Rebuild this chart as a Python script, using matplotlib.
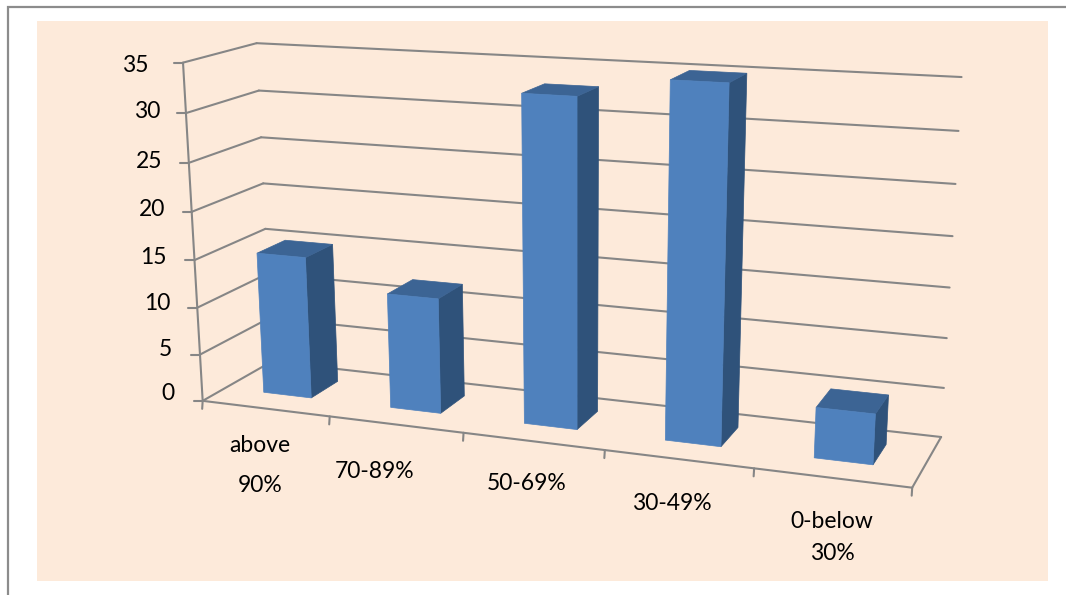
"""
3D-look column chart, drawn on a flat axes with a fitted camera projection.
"""
import numpy as np
import matplotlib
matplotlib.use("Agg")
import matplotlib.pyplot as plt
from matplotlib.patches import Polygon, Rectangle

plt.rcParams['font.family'] = ['Lato', 'DejaVu Sans']

# Chart data
categories = ["above\n90%", "70-89%", "50-69%", "30-49%", "0-below\n30%"]
values = [15, 12, 33, 35, 5]
value_ticks = [0, 5, 10, 15, 20, 25, 30, 35]

# Layout: where the plot box sits on the page, (category, value, depth) -> pixel
calib_world = [(0, 0, 0), (0, 35, 0), (1, 0, 0), (2, 0, 0), (3, 0, 0), (4, 0, 0), (5, 0, 0),
               (0, 15, 0), (0, 0, 1), (0, 35, 1), (5, 35, 1), (5, 0, 1), (0, 15, 1), (5, 15, 1)]
calib_pixel = [(203, 400), (182.5, 62), (330, 417), (464, 433), (605, 451), (753, 469), (912, 488),
               (195, 259), (271, 362), (257, 44), (961, 77), (941, 435), (265, 229), (951, 288)]
tick_label_x = [175, 172, 170, 167, 165, 162, 160, 149]
tick_label_y = [393, 349, 303, 257, 209, 162, 112, 65]
cat_label_xy = [(260, 446), (375, 472), (527, 484), (672, 503), (832, 522)]
cat_label_spacing = [40, 0, 0, 0, 31]
BAR_INSET = 0.31
BAR_DEPTH = (0.32, 0.73)

GRID = "#868686"
FRONT = "#4F81BD"
TOP = "#3C6494"
SIDE = "#2F527A"
PANEL = "#FDEADA"


def fit_camera(world, pixel):
    rows, rhs = [], []
    for (x, y, z), (u, v) in zip(world, pixel):
        rows.append([x, y, z, 1, 0, 0, 0, 0, -u * x, -u * y, -u * z])
        rows.append([0, 0, 0, 0, x, y, z, 1, -v * x, -v * y, -v * z])
        rhs += [u, v]
    sol = np.linalg.lstsq(np.array(rows, float), np.array(rhs, float), rcond=None)[0]
    return np.append(sol, 1.0).reshape(3, 4)


CAM = fit_camera(calib_world, calib_pixel)


def proj(x, v, d):
    p = CAM @ np.array([x, v, d, 1.0])
    return p[0] / p[2], p[1] / p[2]


def main():
    fig = plt.figure(figsize=(10.66, 5.95), dpi=100)
    ax = fig.add_axes([0, 0, 1, 1])
    ax.set_xlim(0, 1066)
    ax.set_ylim(595, 0)
    ax.axis("off")

    # page frame and panel
    ax.plot([8, 8, 1066], [595, 7, 7], color="#8c8c8c", lw=1.6, solid_joinstyle="miter")
    ax.add_patch(Rectangle((37, 21), 1011, 560, facecolor=PANEL, edgecolor="none"))

    def line(a, b, **kw):
        ax.plot([a[0], b[0]], [a[1], b[1]], color=GRID, lw=1.5, solid_capstyle="round", **kw)

    n = len(categories)
    top = value_ticks[-1]

    # gridlines on side and back walls
    for v in value_ticks:
        a = proj(0, v, 0)
        b = proj(0, v, 1)
        line(a, b)
        line(b, proj(n, v, 1))
        line((a[0] - 9, a[1]), a)

    # floor
    line(proj(0, 0, 0), proj(n, 0, 0))
    line(proj(n, 0, 0), proj(n, 0, 1))
    line(proj(0, 0, 0), proj(0, top, 0))
    for i in range(n + 1):
        a = proj(i, 0, 0)
        line(a, (a[0] - 0.5, a[1] + 8))

    # columns
    d0, d1 = BAR_DEPTH
    for i, val in enumerate(values):
        x0, x1 = i + BAR_INSET, i + 1 - BAR_INSET
        front = [proj(x0, 0, d0), proj(x1, 0, d0), proj(x1, val, d0), proj(x0, val, d0)]
        side = [proj(x1, 0, d0), proj(x1, 0, d1), proj(x1, val, d1), proj(x1, val, d0)]
        lid = [proj(x0, val, d0), proj(x1, val, d0), proj(x1, val, d1), proj(x0, val, d1)]
        for pts, c in ((side, SIDE), (lid, TOP), (front, FRONT)):
            ax.add_patch(Polygon(pts, closed=True, facecolor=c, edgecolor=c, lw=0.5, zorder=3))

    # text
    for v, x, y in zip(value_ticks, tick_label_x, tick_label_y):
        ax.text(x, y, str(v), ha="right", va="center", fontsize=16.5, color="black")
    for lab, (x, y), gap in zip(categories, cat_label_xy, cat_label_spacing):
        for k, part in enumerate(lab.split("\n")):
            ax.text(x, y + k * gap, part, ha="center", va="center", fontsize=16.5, color="black")

    fig.savefig("out.png", dpi=100)
    plt.close(fig)


if __name__ == "__main__":
    main()
